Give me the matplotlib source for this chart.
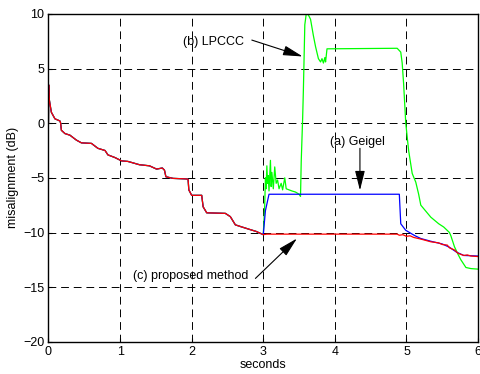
import matplotlib
matplotlib.use("Agg")
import matplotlib.pyplot as plt

plt.rcParams['font.family'] = ['Liberation Sans', 'DejaVu Sans']

# Common part (all three methods identical before t = 3 s)
t_common = [0, 0.003, 0.008, 0.02, 0.04, 0.09, 0.16, 0.17, 0.18, 0.23, 0.30, 0.39, 0.46,
            0.60, 0.69, 0.79, 0.83, 0.93, 1.02, 1.11, 1.27, 1.41, 1.51, 1.59, 1.62,
            1.64, 1.74, 1.93, 1.95, 1.96, 2.00, 2.14, 2.16, 2.21, 2.47, 2.54, 2.61,
            2.68, 2.80, 2.90, 3.00]
y_common = [0.0, 3.5, 2.3, 1.8, 1.0, 0.4, 0.2, 0.0, -0.65, -0.95, -1.1, -1.55, -1.8,
            -1.85, -2.3, -2.5, -2.9, -3.15, -3.45, -3.5, -3.8, -3.9, -4.2, -4.1, -4.3,
            -4.9, -5.05, -5.1, -5.15, -6.1, -6.6, -6.6, -7.65, -8.2, -8.25, -8.55, -9.3,
            -9.45, -9.7, -9.9, -10.2]

# (c) proposed method after t = 3 s
t_prop = [3.05, 4.87, 4.90, 4.95, 5.00, 5.05, 5.10, 5.20, 5.34, 5.45, 5.50, 5.57,
          5.60, 5.67, 5.72, 5.80, 5.85, 5.90, 6.00]
y_prop = [-10.15, -10.15, -10.25, -10.2, -10.35, -10.3, -10.45, -10.6, -10.85, -10.95,
          -11.1, -11.15, -11.4, -11.6, -11.9, -12.1, -12.05, -12.15, -12.2]

# (a) Geigel after t = 3 s
t_geig = [3.03, 3.08, 4.90, 4.92, 4.99, 5.08, 5.12, 5.20, 5.34, 5.50, 5.60, 5.70, 5.80, 6.00]
y_geig = [-8.0, -6.5, -6.5, -9.2, -9.8, -10.15, -10.3, -10.55, -10.8, -11.05, -11.35,
          -11.8, -12.1, -12.15]

# (b) LPCCC after t = 3 s
t_lpc = [3.02, 3.03, 3.04, 3.05, 3.06, 3.07, 3.08, 3.10, 3.11, 3.12, 3.14, 3.16, 3.18,
         3.20, 3.22, 3.25, 3.27, 3.30, 3.32, 3.40, 3.45, 3.50, 3.52, 3.53, 3.55, 3.56,
         3.57, 3.58, 3.60, 3.63, 3.66, 3.70, 3.73, 3.77, 3.80, 3.82, 3.84, 3.86, 3.87,
         3.89, 4.87, 4.92, 4.94, 4.96, 4.99, 5.03, 5.08, 5.13, 5.17, 5.20, 5.34, 5.45,
         5.52, 5.60, 5.62, 5.67, 5.72, 5.76, 5.83, 5.90, 6.00]
y_lpc = [-7.5, -5.0, -6.0, -3.9, -5.5, -4.8, -6.2, -3.4, -5.8, -4.5, -6.0, -4.0, -5.5,
         -5.2, -6.0, -5.5, -6.1, -5.0, -6.0, -6.2, -6.3, -6.5, -6.7, -3.5, 0.5, 3.0,
         6.0, 9.0, 10.0, 9.9, 9.5, 8.0, 7.0, 5.9, 5.6, 5.9, 5.5, 6.0, 5.6,
         6.8, 6.85, 6.5, 5.5, 3.6, 0.0, -2.5, -4.6, -5.4, -6.5, -7.5, -8.6, -9.2,
         -9.5, -10.0, -10.3, -11.3, -12.0, -12.5, -13.2, -13.3, -13.35]

x_ticks = [0, 1, 2, 3, 4, 5, 6]
y_ticks = [-20, -15, -10, -5, 0, 5, 10]

fig = plt.figure(figsize=(4.8, 3.74), dpi=100)
ax = fig.add_axes([0.101, 0.086, 0.895, 0.877])

ax.plot(t_common + t_lpc, y_common + y_lpc, color='#00ff00', lw=0.9)
ax.plot(t_common + t_geig, y_common + y_geig, color='#0000ff', lw=0.9)
ax.plot(t_common + t_prop, y_common + y_prop, color='#ff0000', lw=0.9)

ax.set_xlim(0, 6)
ax.set_ylim(-20, 10)
ax.set_xticks(x_ticks)
ax.set_yticks(y_ticks)
ax.grid(True, color='black', linestyle=(0, (8, 5)), lw=0.7)
for s in ax.spines.values():
    s.set_linewidth(1.0)
ax.tick_params(direction='in', length=3, labelsize=9, pad=3)
ax.set_xlabel('seconds', fontsize=9, labelpad=1)
ax.set_ylabel('misalignment (dB)', fontsize=9, labelpad=3)

ap = dict(arrowstyle='-|>,head_length=1.2,head_width=0.3', color='black', lw=0.8,
          shrinkA=0, shrinkB=0, mutation_scale=10)
ax.text(2.31, 7.45, '(b) LPCCC', fontsize=9, ha='center', va='center')
ax.annotate('', xy=(3.55, 6.1), xytext=(2.84, 7.6), arrowprops=ap)
ax.text(4.31, -1.7, '(a) Geigel', fontsize=9, ha='center', va='center')
ax.annotate('', xy=(4.35, -6.15), xytext=(4.35, -2.3), arrowprops=ap)
ax.text(1.98, -14.0, '(c) proposed method', fontsize=9, ha='center', va='center')
ax.annotate('', xy=(3.47, -10.55), xytext=(2.89, -14.2), arrowprops=ap)

fig.savefig('out.png', dpi=100)
